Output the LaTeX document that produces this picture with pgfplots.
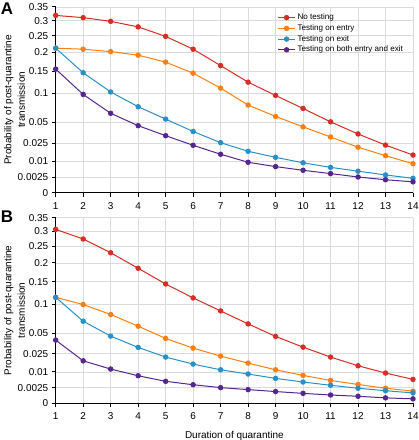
\documentclass[border=0pt]{standalone}
\usepackage{fontspec}
\setmainfont{Liberation Sans}
\usepackage{pgfplots}
\pgfplotsset{compat=1.18}
\definecolor{cred}{RGB}{214,45,36}
\definecolor{corange}{RGB}{255,127,14}
\definecolor{cblue}{RGB}{40,144,200}
\definecolor{cpurple}{RGB}{86,38,144}
\pgfplotsset{
  panel/.style={
    scale only axis, width=357.3bp, height=185.7bp,
    xmin=1, xmax=14, ymin=0, ymax=0.35,
    y coord trafo/.code={\pgfmathparse{sqrt(##1)}},
    y coord inv trafo/.code={\pgfmathparse{(##1)^2}},
    xtick={1,...,14},
    ytick={0,0.0025,0.01,0.025,0.05,0.1,0.15,0.2,0.25,0.3,0.35},
    yticklabels={0,0.0025,0.01,0.025,0.05,0.1,0.15,0.2,0.25,0.3,0.35},
    minor y tick num=8,
    axis x line*=bottom, axis y line*=left,
    axis line style={black, line width=0.8bp},
    ticks=both, xtick pos=bottom, ytick pos=left,
    tick align=outside,
    major tick length=4bp, minor tick length=3bp,
    tick style={draw=black, line width=1bp},
    minor tick style={draw=black, line width=1bp},
    xmajorgrids, ymajorgrids,
    major grid style={black!14, line width=0.6bp},
    ticklabel style={font=\fontsize{10}{12}\selectfont},
    xticklabel style={yshift=-2bp},
    /pgf/number format/assume math mode=true,
    clip=false,
    ylabel={Probability of post-quarantine\\transmission},
    ylabel style={align=center, at={(axis description cs:-0.1153,0.5)}, anchor=center, font=\fontsize{10}{13.5}\selectfont},
    every axis plot/.append style={line width=1bp, mark=*, mark size=2.2bp},
  }
}
\begin{document}
\begin{tikzpicture}
\begin{axis}[panel, at={(0,210.6bp)}, anchor=south west,
  legend style={draw=none, fill=none, at={(0.612,0.985)}, anchor=north west,
    font=\fontsize{8.1}{9.7}\selectfont, row sep=-0.6bp},
  legend cell align=left]
\addplot[cred, mark options={fill=cred}] coordinates {(1,0.319)(2,0.311)(3,0.298)(4,0.279)(5,0.248)(6,0.209)(7,0.164)(8,0.124)(9,0.096)(10,0.072)(11,0.051)(12,0.035)(13,0.023)(14,0.0144)};
\addlegendentry{No testing}
\addplot[corange, mark options={fill=corange}] coordinates {(1,0.212)(2,0.209)(3,0.202)(4,0.192)(5,0.173)(6,0.145)(7,0.111)(8,0.078)(9,0.059)(10,0.044)(11,0.0315)(12,0.021)(13,0.0139)(14,0.0085)};
\addlegendentry{Testing on entry}
\addplot[cblue, mark options={fill=cblue}] coordinates {(1,0.212)(2,0.146)(3,0.103)(4,0.075)(5,0.055)(6,0.038)(7,0.0254)(8,0.0174)(9,0.0127)(10,0.0091)(11,0.0065)(12,0.0047)(13,0.0032)(14,0.0021)};
\addlegendentry{Testing on exit}
\addplot[cpurple, mark options={fill=cpurple}] coordinates {(1,0.155)(2,0.098)(3,0.064)(4,0.0456)(5,0.033)(6,0.0228)(7,0.015)(8,0.0094)(9,0.0069)(10,0.0051)(11,0.0037)(12,0.0025)(13,0.0017)(14,0.0012)};
\addlegendentry{Testing on both entry and exit}
\end{axis}
\begin{axis}[panel, at={(0,0)}, anchor=south west,
  xlabel={Duration of quarantine},
  xlabel style={font=\fontsize{10}{12}\selectfont, yshift=-5bp}]
\addplot[cred, mark options={fill=cred}] coordinates {(1,0.307)(2,0.274)(3,0.230)(4,0.185)(5,0.1445)(6,0.1127)(7,0.0866)(8,0.064)(9,0.0454)(10,0.032)(11,0.0217)(12,0.0143)(13,0.0093)(14,0.0058)};
\addplot[corange, mark options={fill=corange}] coordinates {(1,0.114)(2,0.099)(3,0.080)(4,0.0604)(5,0.0427)(6,0.0309)(7,0.0226)(8,0.0164)(9,0.0114)(10,0.0079)(11,0.0053)(12,0.0036)(13,0.0023)(14,0.0015)};
\addplot[cblue, mark options={fill=cblue}] coordinates {(1,0.114)(2,0.0684)(3,0.0458)(4,0.0317)(5,0.0217)(6,0.0156)(7,0.0114)(8,0.0087)(9,0.0063)(10,0.0046)(11,0.0033)(12,0.0023)(13,0.0016)(14,0.0011)};
\addplot[cpurple, mark options={fill=cpurple}] coordinates {(1,0.0405)(2,0.0183)(3,0.0119)(4,0.0077)(5,0.0049)(6,0.0035)(7,0.0025)(8,0.0019)(9,0.0014)(10,0.001)(11,0.0007)(12,0.0005)(13,0.0003)(14,0.0002)};
\end{axis}
\node[font=\bfseries\fontsize{17}{17}\selectfont] at (-48.7bp,394.3bp) {A};
\node[font=\bfseries\fontsize{17}{17}\selectfont] at (-48.7bp,187bp) {B};
\pgfresetboundingbox
\useasboundingbox (-55.7bp,-36.7bp) rectangle (363.3bp,403.3bp);
\end{tikzpicture}
\end{document}
